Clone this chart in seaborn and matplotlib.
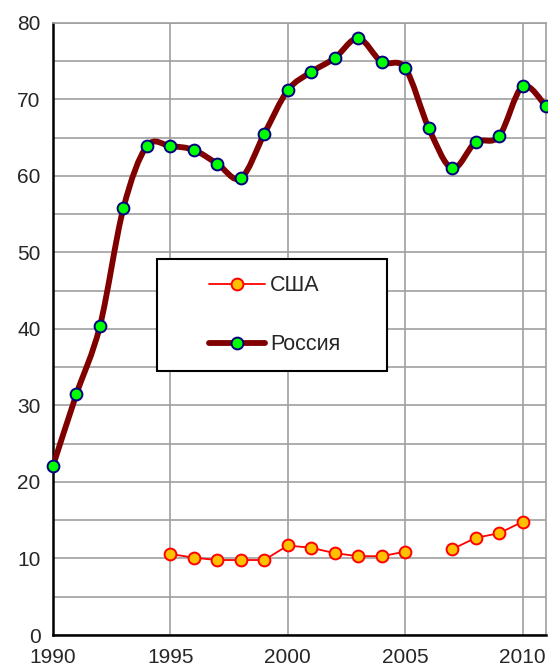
import numpy as np
import pandas as pd
import matplotlib
matplotlib.use("Agg")
import matplotlib.pyplot as plt
import seaborn as sns
from matplotlib.path import Path
from matplotlib.patches import PathPatch, Rectangle
from matplotlib.lines import Line2D

years_russia = list(range(1990, 2012))
russia = [22.1, 31.5, 40.4, 55.8, 63.9, 63.9, 63.4, 61.6, 59.7, 65.5, 71.2,
          73.6, 75.4, 78.0, 74.9, 74.1, 66.3, 61.0, 64.4, 65.2, 71.7, 69.1]

years_usa = [1995, 1996, 1997, 1998, 1999, 2000, 2001, 2002, 2003, 2004, 2005,
             2007, 2008, 2009, 2010]
usa = [10.6, 10.1, 9.8, 9.8, 9.8, 11.7, 11.4, 10.7, 10.3, 10.3, 10.9,
       11.2, 12.7, 13.3, 14.8]

x_ticks = [1990, 1995, 2000, 2005, 2010]
y_ticks = [0, 10, 20, 30, 40, 50, 60, 70, 80]

RUS_LINE = "#800000"
RUS_FACE = "#00ff00"
RUS_EDGE = "#000080"
USA_LINE = "#ff0000"
USA_FACE = "#ffc000"
GRID = "#a0a0a0"

sns.set_style("white")
plt.rcParams["font.family"] = ["Liberation Sans", "DejaVu Sans"]

fig = plt.figure(figsize=(5.48, 6.68), dpi=100)
ax = fig.add_axes([0.0967, 0.0494, 0.8997, 0.9162])

df_rus = pd.DataFrame({"year": years_russia, "value": russia})
# USA series has a gap in 2006, draw it as two segments
df_usa = pd.DataFrame({"year": years_usa, "value": usa})
df_usa["seg"] = (df_usa["year"] > 2006).astype(int)


def smooth_path(xs, ys):
    # Excel-like smoothed line: cubic Bezier through the data points
    xs = np.asarray(xs, float)
    ys = np.asarray(ys, float)
    n = len(xs)
    verts = [(xs[0], ys[0])]
    codes = [Path.MOVETO]
    for i in range(n - 1):
        x0, y0 = (xs[i - 1], ys[i - 1]) if i > 0 else (xs[i], ys[i])
        x3, y3 = (xs[i + 2], ys[i + 2]) if i + 2 < n else (xs[i + 1], ys[i + 1])
        c1 = (xs[i] + (xs[i + 1] - x0) / 6, ys[i] + (ys[i + 1] - y0) / 6)
        c2 = (xs[i + 1] - (x3 - xs[i]) / 6, ys[i + 1] - (y3 - ys[i]) / 6)
        verts += [c1, c2, (xs[i + 1], ys[i + 1])]
        codes += [Path.CURVE4] * 3
    return Path(verts, codes)


for seg, part in df_usa.groupby("seg"):
    sns.lineplot(data=part, x="year", y="value", ax=ax, color=USA_LINE,
                 linewidth=1.3, marker="o", markersize=8.5,
                 markerfacecolor=USA_FACE, markeredgecolor=USA_LINE,
                 markeredgewidth=1.4, zorder=4)

ax.add_patch(PathPatch(smooth_path(years_russia, russia), facecolor="none",
                       edgecolor=RUS_LINE, linewidth=4.2, capstyle="round",
                       joinstyle="round", zorder=5))
sns.scatterplot(data=df_rus, x="year", y="value", ax=ax, color=RUS_FACE,
                edgecolor=RUS_EDGE, linewidth=1.4, s=72, zorder=6,
                clip_on=False)

ax.set_xlim(1990, 2011)
ax.set_ylim(0, 80)
ax.set_xticks(x_ticks)
ax.set_yticks(y_ticks)
ax.set_yticks(np.arange(5, 80, 10), minor=True)
ax.set_xlabel("")
ax.set_ylabel("")
ax.grid(True, which="both", color=GRID, linewidth=1.2)
ax.set_axisbelow(True)
ax.tick_params(axis="both", which="major", direction="out", length=5,
               width=1.5, labelsize=15, color="black", pad=4)
ax.tick_params(axis="x", which="major", pad=4)
ax.tick_params(which="minor", length=0)

for side in ["left", "bottom"]:
    ax.spines[side].set_color("black")
    ax.spines[side].set_linewidth(1.8)
for side in ["top", "right"]:
    ax.spines[side].set_color(GRID)
    ax.spines[side].set_linewidth(1.2)

# legend box
ax.add_patch(Rectangle((0.211, 0.431), 0.467, 0.183, transform=ax.transAxes,
                       facecolor="white", edgecolor="black", linewidth=1.5,
                       zorder=7))
handles = [
    Line2D([], [], color=USA_LINE, linewidth=1.3, marker="o", markersize=8.5,
           markerfacecolor=USA_FACE, markeredgecolor=USA_LINE,
           markeredgewidth=1.4),
    Line2D([], [], color=RUS_LINE, linewidth=4.2, solid_capstyle="round",
           marker="o", markersize=8.5, markerfacecolor=RUS_FACE,
           markeredgecolor=RUS_EDGE, markeredgewidth=1.4),
]
leg = ax.legend(handles, ["США", "Россия"], loc="center left",
                bbox_to_anchor=(0.316, 0.5225), frameon=False, fontsize=15.5,
                handlelength=2.6, handletextpad=0.25, labelspacing=1.75,
                borderpad=0, borderaxespad=0)
leg.set_zorder(8)

plt.savefig("out.png", dpi=100)
